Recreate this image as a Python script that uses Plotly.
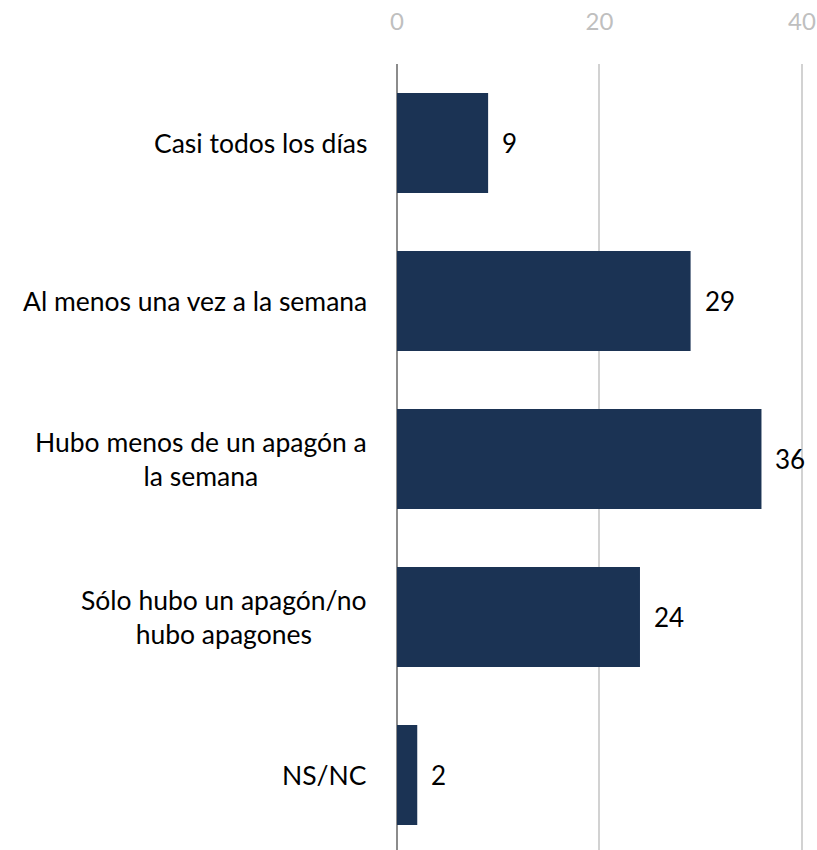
import plotly.graph_objects as go

categories = [
    'Casi todos los días',
    'Al menos una vez a la semana',
    'Hubo menos de un apagón a<br>la semana',
    'Sólo hubo un apagón/no<br>hubo apagones',
    'NS/NC',
]
values = [9, 29, 36, 24, 2]
x_ticks = [0, 20, 40]

FONT = 'Lato, "Open Sans", sans-serif'
BAR_COLOR = '#1b3354'

fig = go.Figure()

fig.add_trace(go.Bar(
    x=values, y=list(range(len(categories))),
    orientation='h',
    width=0.633,
    marker=dict(color=BAR_COLOR, line=dict(width=0)),
    hoverinfo='skip',
    showlegend=False,
))

annotations = []
for i, (cat, v) in enumerate(zip(categories, values)):
    annotations.append(dict(
        xref='paper', x=0, yref='y', y=i,
        text=cat, showarrow=False,
        xanchor='right', yanchor='middle', align='center',
        xshift=-28,
        font=dict(family=FONT, size=26.5, color='#000000'),
    ))
    annotations.append(dict(
        xref='x', x=v, yref='y', y=i,
        text=str(v), showarrow=False,
        xanchor='left', yanchor='middle',
        xshift=12,
        font=dict(family=FONT, size=26, color='#000000'),
    ))

fig.update_layout(
    width=817, height=850,
    margin=dict(l=397, r=12, t=64, b=0),
    paper_bgcolor='white', plot_bgcolor='white',
    xaxis=dict(
        side='top', range=[0, 40.3],
        tickvals=x_ticks, ticktext=[str(t) for t in x_ticks],
        showgrid=True, gridcolor='#d2d2d2', gridwidth=2,
        zeroline=True, zerolinecolor='#8c8c8c', zerolinewidth=2,
        showline=False, ticks='',
        tickfont=dict(family=FONT, size=24, color='#bfbfbf'),
        ticklabelstandoff=28,
    ),
    yaxis=dict(
        range=[4.475, -0.5],
        showticklabels=False, showgrid=False, zeroline=False,
        showline=False, ticks='',
    ),
    annotations=annotations,
)

# drop the default page margin so the figure fills the window exactly
fig.write_html(
    "out.html",
    config={'displayModeBar': False},
    post_script="document.body.style.margin='0';document.body.style.overflow='hidden';",
)
